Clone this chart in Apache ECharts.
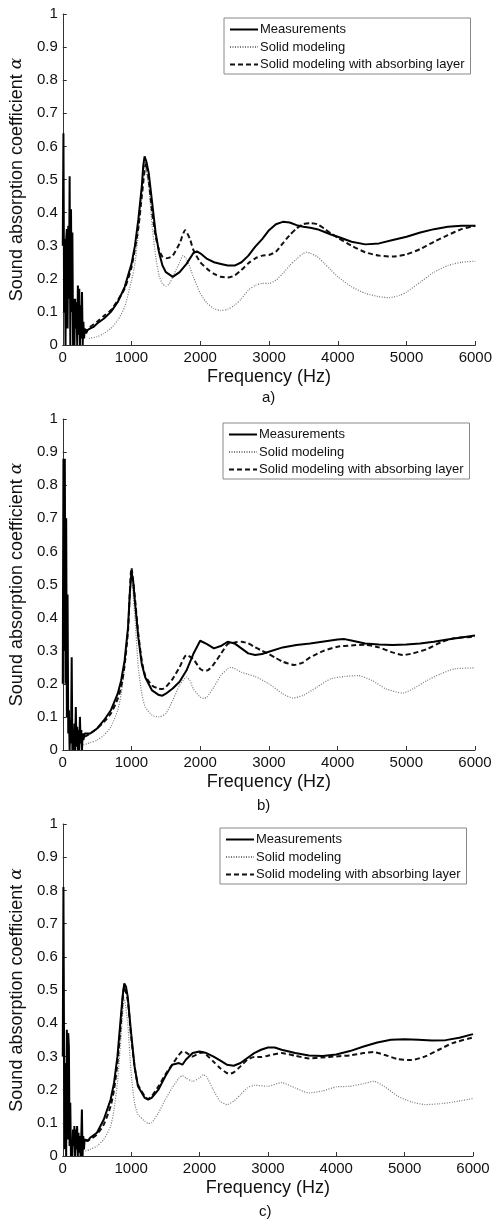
<!DOCTYPE html>
<html>
<head>
<meta charset="utf-8">
<script src="https://cdn.jsdelivr.net/npm/echarts@6/dist/echarts.min.js"></script>
<style>
  html, body { margin: 0; padding: 0; background: #fff; }
  #chart { width: 495px; height: 1219px; }
</style>
</head>
<body>
<div id="chart"></div>
<script>
// 每组数据: [频率 Hz, 吸声系数]
const xTicks = [0, 1000, 2000, 3000, 4000, 5000, 6000]
const yTicks = [0, 0.1, 0.2, 0.3, 0.4, 0.5, 0.6, 0.7, 0.8, 0.9, 1]
const panelLabels = ['a)', 'b)', 'c)']
const seriesNames = ['Measurements', 'Solid modeling', 'Solid modeling with absorbing layer']

// a) 测量
const measA = [
  [0, 0.3], [10, 0.64], [20, 0.1], [30, 0.32], [40, 0.0], [50, 0.32], [60, 0.35], [70, 0.05],
  [80, 0.36], [90, 0.14], [100, 0.51], [110, 0.0], [120, 0.41], [130, 0.1], [140, 0.34], [150, 0.0],
  [160, 0.14], [170, 0.0], [180, 0.14], [190, 0.05], [200, 0.13], [210, 0.0], [220, 0.18], [230, 0.03],
  [240, 0.17], [250, 0.0], [260, 0.12], [270, 0.02], [280, 0.16], [290, 0.0], [300, 0.07], [310, 0.02],
  [320, 0.05], [340, 0.035], [360, 0.045], [380, 0.04], [400, 0.05], [450, 0.055], [500, 0.065],
  [600, 0.08], [700, 0.1], [800, 0.13], [900, 0.175], [1000, 0.245], [1050, 0.3], [1100, 0.38],
  [1150, 0.48], [1170, 0.54], [1190, 0.57], [1215, 0.555], [1250, 0.52], [1300, 0.43], [1350, 0.34],
  [1400, 0.28], [1450, 0.24], [1500, 0.22], [1600, 0.206], [1700, 0.22], [1800, 0.245], [1900, 0.278],
  [1950, 0.283], [2000, 0.277], [2100, 0.26], [2200, 0.25], [2300, 0.245], [2400, 0.24], [2500, 0.24],
  [2600, 0.25], [2700, 0.27], [2800, 0.297], [2900, 0.32], [3000, 0.347], [3100, 0.365], [3200, 0.372],
  [3300, 0.37], [3400, 0.362], [3500, 0.357], [3600, 0.354], [3700, 0.35], [3800, 0.342], [3900, 0.334],
  [4000, 0.327], [4200, 0.312], [4400, 0.304], [4600, 0.307], [4800, 0.317], [5000, 0.327], [5200, 0.34],
  [5400, 0.35], [5600, 0.357], [5800, 0.36], [6000, 0.36]
]
// a) 实体模型
const solidA = [
  [380, 0.02], [500, 0.025], [600, 0.035], [700, 0.05], [800, 0.075], [900, 0.115], [1000, 0.195],
  [1050, 0.245], [1100, 0.34], [1150, 0.46], [1200, 0.535], [1250, 0.48], [1300, 0.36], [1350, 0.27],
  [1400, 0.21], [1450, 0.185], [1500, 0.178], [1550, 0.185], [1600, 0.206], [1700, 0.25], [1750, 0.27],
  [1800, 0.26], [1900, 0.206], [2000, 0.156], [2100, 0.126], [2200, 0.11], [2300, 0.104], [2400, 0.108],
  [2500, 0.12], [2600, 0.14], [2700, 0.166], [2800, 0.18], [2900, 0.186], [3000, 0.186], [3100, 0.196],
  [3200, 0.216], [3300, 0.24], [3400, 0.26], [3500, 0.277], [3550, 0.28], [3600, 0.277], [3700, 0.267],
  [3800, 0.247], [3900, 0.227], [4000, 0.206], [4200, 0.176], [4400, 0.156], [4600, 0.146], [4750, 0.143],
  [4900, 0.15], [5000, 0.16], [5200, 0.19], [5400, 0.22], [5600, 0.24], [5800, 0.25], [6000, 0.253]
]
// a) 含吸声层
const layerA = [
  [300, 0.04], [350, 0.045], [400, 0.055], [500, 0.07], [600, 0.088], [700, 0.105], [800, 0.135],
  [900, 0.17], [1000, 0.235], [1100, 0.355], [1150, 0.45], [1210, 0.55], [1250, 0.5], [1300, 0.4],
  [1350, 0.33], [1400, 0.287], [1450, 0.267], [1500, 0.262], [1550, 0.264], [1600, 0.27], [1700, 0.307],
  [1780, 0.347], [1850, 0.32], [1900, 0.287], [2000, 0.25], [2100, 0.23], [2200, 0.215], [2300, 0.206],
  [2400, 0.204], [2500, 0.21], [2600, 0.227], [2700, 0.247], [2800, 0.262], [2900, 0.27], [3000, 0.272],
  [3100, 0.282], [3200, 0.307], [3300, 0.332], [3400, 0.352], [3500, 0.365], [3600, 0.368], [3700, 0.365],
  [3800, 0.352], [3900, 0.337], [4000, 0.324], [4200, 0.3], [4400, 0.28], [4600, 0.27], [4800, 0.267],
  [5000, 0.274], [5200, 0.29], [5400, 0.312], [5600, 0.332], [5800, 0.35], [6000, 0.36]
]

// b) 测量
const measB = [
  [0, 0.2], [10, 0.88], [20, 0.3], [30, 0.88], [40, 0.2], [50, 0.7], [60, 0.1], [70, 0.47],
  [80, 0.05], [90, 0.12], [100, 0.0], [110, 0.09], [120, 0.02], [130, 0.28], [140, 0.0], [150, 0.06],
  [160, 0.0], [170, 0.08], [180, 0.0], [190, 0.13], [200, 0.01], [210, 0.07], [220, 0.0], [230, 0.06],
  [240, 0.0], [250, 0.1], [260, 0.02], [270, 0.06], [280, 0.0], [290, 0.05], [300, 0.03], [320, 0.05],
  [340, 0.045], [360, 0.05], [400, 0.05], [500, 0.065], [600, 0.09], [700, 0.12], [800, 0.17],
  [850, 0.21], [900, 0.27], [950, 0.37], [975, 0.47], [1000, 0.54], [1025, 0.51], [1050, 0.45],
  [1100, 0.34], [1150, 0.26], [1200, 0.22], [1300, 0.18], [1400, 0.166], [1450, 0.164], [1500, 0.17],
  [1600, 0.186], [1700, 0.206], [1800, 0.24], [1900, 0.29], [2000, 0.33], [2100, 0.32], [2200, 0.307],
  [2300, 0.314], [2400, 0.327], [2500, 0.322], [2600, 0.307], [2700, 0.292], [2800, 0.287], [2900, 0.29],
  [3000, 0.297], [3200, 0.31], [3400, 0.317], [3600, 0.322], [3800, 0.328], [4000, 0.334], [4100, 0.335],
  [4200, 0.331], [4400, 0.322], [4600, 0.319], [4800, 0.317], [5000, 0.319], [5200, 0.322], [5400, 0.327],
  [5600, 0.334], [5800, 0.34], [6000, 0.346]
]
// b) 实体模型
const solidB = [
  [300, 0.015], [400, 0.022], [500, 0.03], [600, 0.045], [700, 0.07], [800, 0.12], [850, 0.17],
  [900, 0.25], [950, 0.38], [1000, 0.52], [1050, 0.4], [1100, 0.25], [1150, 0.17], [1200, 0.13],
  [1300, 0.105], [1400, 0.1], [1500, 0.11], [1600, 0.15], [1700, 0.195], [1800, 0.22], [1850, 0.21],
  [1900, 0.185], [2000, 0.16], [2050, 0.156], [2100, 0.16], [2200, 0.19], [2300, 0.225], [2400, 0.245],
  [2450, 0.25], [2600, 0.235], [2800, 0.222], [3000, 0.2], [3200, 0.17], [3350, 0.157], [3500, 0.165],
  [3700, 0.19], [3900, 0.215], [4100, 0.222], [4300, 0.225], [4500, 0.21], [4700, 0.185], [4950, 0.172],
  [5100, 0.185], [5300, 0.21], [5500, 0.23], [5700, 0.245], [6000, 0.248]
]
// b) 含吸声层
const layerB = [
  [320, 0.04], [400, 0.05], [500, 0.065], [600, 0.085], [700, 0.11], [800, 0.155], [850, 0.19],
  [900, 0.255], [950, 0.36], [1000, 0.55], [1050, 0.46], [1100, 0.35], [1150, 0.27], [1200, 0.225],
  [1300, 0.195], [1400, 0.185], [1450, 0.184], [1500, 0.19], [1600, 0.215], [1700, 0.25], [1800, 0.287],
  [1900, 0.275], [2000, 0.245], [2050, 0.24], [2100, 0.24], [2200, 0.26], [2300, 0.29], [2400, 0.32],
  [2500, 0.325], [2600, 0.327], [2700, 0.322], [2800, 0.31], [2900, 0.3], [3000, 0.29], [3100, 0.278],
  [3200, 0.267], [3370, 0.257], [3500, 0.265], [3600, 0.28], [3800, 0.3], [4000, 0.312], [4200, 0.316],
  [4400, 0.318], [4600, 0.31], [4800, 0.295], [4950, 0.287], [5100, 0.292], [5300, 0.305], [5500, 0.325],
  [5700, 0.338], [6000, 0.342]
]

// c) 测量
const measC = [
  [0, 0.3], [10, 0.81], [20, 0.28], [30, 0.02], [40, 0.28], [50, 0.0], [60, 0.38], [70, 0.05],
  [80, 0.37], [90, 0.33], [100, 0.03], [110, 0.16], [120, 0.0], [130, 0.04], [140, 0.0], [150, 0.08],
  [160, 0.03], [170, 0.09], [180, 0.0], [190, 0.08], [200, 0.02], [210, 0.09], [220, 0.0], [230, 0.07],
  [240, 0.01], [250, 0.06], [260, 0.0], [270, 0.05], [280, 0.14], [290, 0.0], [300, 0.06], [310, 0.02],
  [320, 0.05], [340, 0.05], [370, 0.045], [400, 0.055], [500, 0.07], [600, 0.11], [700, 0.17],
  [750, 0.22], [800, 0.3], [850, 0.42], [875, 0.48], [900, 0.52], [925, 0.51], [950, 0.48], [1000, 0.37],
  [1050, 0.27], [1100, 0.21], [1200, 0.175], [1250, 0.17], [1300, 0.175], [1400, 0.2], [1500, 0.24],
  [1600, 0.275], [1700, 0.28], [1750, 0.275], [1800, 0.29], [1900, 0.31], [2000, 0.315], [2100, 0.31],
  [2200, 0.3], [2300, 0.288], [2400, 0.275], [2500, 0.272], [2600, 0.28], [2700, 0.295], [2800, 0.31],
  [2900, 0.32], [3000, 0.327], [3100, 0.327], [3200, 0.32], [3400, 0.31], [3600, 0.303], [3800, 0.301],
  [4000, 0.306], [4200, 0.316], [4400, 0.33], [4600, 0.342], [4800, 0.35], [5000, 0.352], [5200, 0.35],
  [5400, 0.348], [5600, 0.349], [5800, 0.356], [6000, 0.367]
]
// c) 实体模型
const solidC = [
  [330, 0.015], [400, 0.02], [500, 0.03], [600, 0.05], [700, 0.09], [750, 0.14], [800, 0.22],
  [850, 0.35], [900, 0.475], [950, 0.4], [1000, 0.25], [1050, 0.16], [1100, 0.125], [1200, 0.105],
  [1250, 0.098], [1300, 0.1], [1400, 0.13], [1500, 0.17], [1600, 0.205], [1700, 0.235], [1750, 0.242],
  [1800, 0.235], [1900, 0.225], [2000, 0.235], [2050, 0.245], [2100, 0.24], [2200, 0.2], [2300, 0.165],
  [2400, 0.155], [2500, 0.165], [2600, 0.185], [2700, 0.205], [2800, 0.213], [3000, 0.21], [3200, 0.221],
  [3400, 0.205], [3600, 0.19], [3800, 0.196], [4000, 0.208], [4200, 0.21], [4400, 0.218], [4550, 0.225],
  [4700, 0.21], [4900, 0.18], [5100, 0.163], [5300, 0.155], [5500, 0.157], [5700, 0.162], [6000, 0.173]
]
// c) 含吸声层
const layerC = [
  [330, 0.045], [400, 0.05], [500, 0.065], [600, 0.095], [700, 0.15], [750, 0.2], [800, 0.28],
  [850, 0.4], [900, 0.51], [950, 0.47], [1000, 0.36], [1050, 0.27], [1100, 0.215], [1200, 0.18],
  [1250, 0.172], [1300, 0.18], [1400, 0.21], [1500, 0.245], [1600, 0.275], [1700, 0.305], [1750, 0.315],
  [1800, 0.312], [1900, 0.3], [2000, 0.31], [2050, 0.312], [2100, 0.305], [2200, 0.285], [2300, 0.265],
  [2400, 0.25], [2450, 0.248], [2500, 0.252], [2600, 0.27], [2700, 0.29], [2800, 0.298], [2900, 0.298],
  [3000, 0.302], [3200, 0.31], [3400, 0.302], [3600, 0.294], [3800, 0.297], [4000, 0.3], [4200, 0.303],
  [4400, 0.31], [4550, 0.313], [4700, 0.305], [4900, 0.292], [5100, 0.289], [5300, 0.3], [5500, 0.32],
  [5700, 0.34], [6000, 0.357]
]

const panels = [
  { meas: measA, solid: solidA, layer: layerA },
  { meas: measB, solid: solidB, layer: layerB },
  { meas: measC, solid: solidC, layer: layerC },
]

const FONT = 'Liberation Sans, Arial, sans-serif'
// 三个子图的位置
const grids = [
  { left: 55, top: 14, width: 422, height: 331 },
  { left: 53, top: 419, width: 422, height: 331 },
  { left: 51, top: 824, width: 422, height: 332 },
]
const yNameGap = [29, 28, 27]
const legendPos = [
  { left: 224, top: 18 },
  { left: 223, top: 423 },
  { left: 220, top: 828 },
]
const labelPos = [
  { left: 262, top: 390 },
  { left: 257, top: 798 },
  { left: 259, top: 1204 },
]

const chart = echarts.init(document.getElementById('chart'))

const xAxis = grids.map((g, i) => ({
  type: 'value',
  gridIndex: i,
  min: xTicks[0],
  max: xTicks[xTicks.length - 1],
  interval: 1000,
  name: 'Frequency (Hz)',
  nameLocation: 'middle',
  nameGap: 23,
  nameTextStyle: { fontFamily: FONT, fontSize: 18, color: '#111' },
  axisLine: { lineStyle: { color: '#333', width: 1 } },
  axisTick: { inside: true, length: 4, lineStyle: { color: '#333' } },
  axisLabel: { fontFamily: FONT, fontSize: 15, color: '#111', margin: 5, formatter: (v) => String(v) },
  splitLine: { show: false },
}))

const yAxis = grids.map((g, i) => ({
  type: 'value',
  gridIndex: i,
  min: yTicks[0],
  max: yTicks[yTicks.length - 1],
  interval: 0.1,
  name: 'Sound absorption coefficient {a|α}',
  nameLocation: 'middle',
  nameGap: yNameGap[i],
  nameTextStyle: {
    fontFamily: FONT, fontSize: 18, color: '#111',
    rich: { a: { fontFamily: 'DejaVu Serif', fontStyle: 'italic', fontSize: 17, color: '#111' } },
  },
  axisLine: { show: true, lineStyle: { color: '#333', width: 1 } },
  axisTick: { show: true, inside: true, length: 4, lineStyle: { color: '#333' } },
  axisLabel: { fontFamily: FONT, fontSize: 15, color: '#111', margin: 5 },
  splitLine: { show: false },
}))

const series = []
panels.forEach((p, i) => {
  series.push({
    name: seriesNames[0], type: 'line', xAxisIndex: i, yAxisIndex: i,
    data: p.meas, showSymbol: false, symbol: 'none', z: 3,
    itemStyle: { color: '#000' },
    lineStyle: { color: '#000', width: 2, type: 'solid' },
  })
  series.push({
    name: seriesNames[1], type: 'line', xAxisIndex: i, yAxisIndex: i,
    data: p.solid, showSymbol: false, symbol: 'none', smooth: 0.2, z: 2,
    itemStyle: { color: '#777' },
    lineStyle: { color: '#777', width: 1.2, type: [1, 1.5] },
  })
  series.push({
    name: seriesNames[2], type: 'line', xAxisIndex: i, yAxisIndex: i,
    data: p.layer, showSymbol: false, symbol: 'none', smooth: 0.2, z: 2,
    itemStyle: { color: '#111' },
    lineStyle: { color: '#111', width: 2, type: [5, 3] },
  })
})

const legend = legendPos.map((pos) => ({
  left: pos.left,
  top: pos.top,
  orient: 'vertical',
  data: seriesNames,
  itemWidth: 28,
  itemHeight: 12,
  itemGap: 4.5,
  padding: [5, 6, 3, 5],
  borderColor: '#888',
  borderWidth: 1,
  backgroundColor: '#fff',
  selectedMode: false,
  itemStyle: { opacity: 0 },
  textStyle: { fontFamily: FONT, fontSize: 13, color: '#111', padding: [0, 0, 0, -3] },
}))

chart.setOption({
  animation: false,
  backgroundColor: '#fff',
  grid: grids,
  xAxis: xAxis,
  yAxis: yAxis,
  legend: legend,
  series: series,
  graphic: labelPos.map((pos, i) => ({
    type: 'text',
    left: pos.left,
    top: pos.top,
    style: { text: panelLabels[i], font: '15px ' + FONT, fill: '#111' },
  })),
})
</script>
</body>
</html>
